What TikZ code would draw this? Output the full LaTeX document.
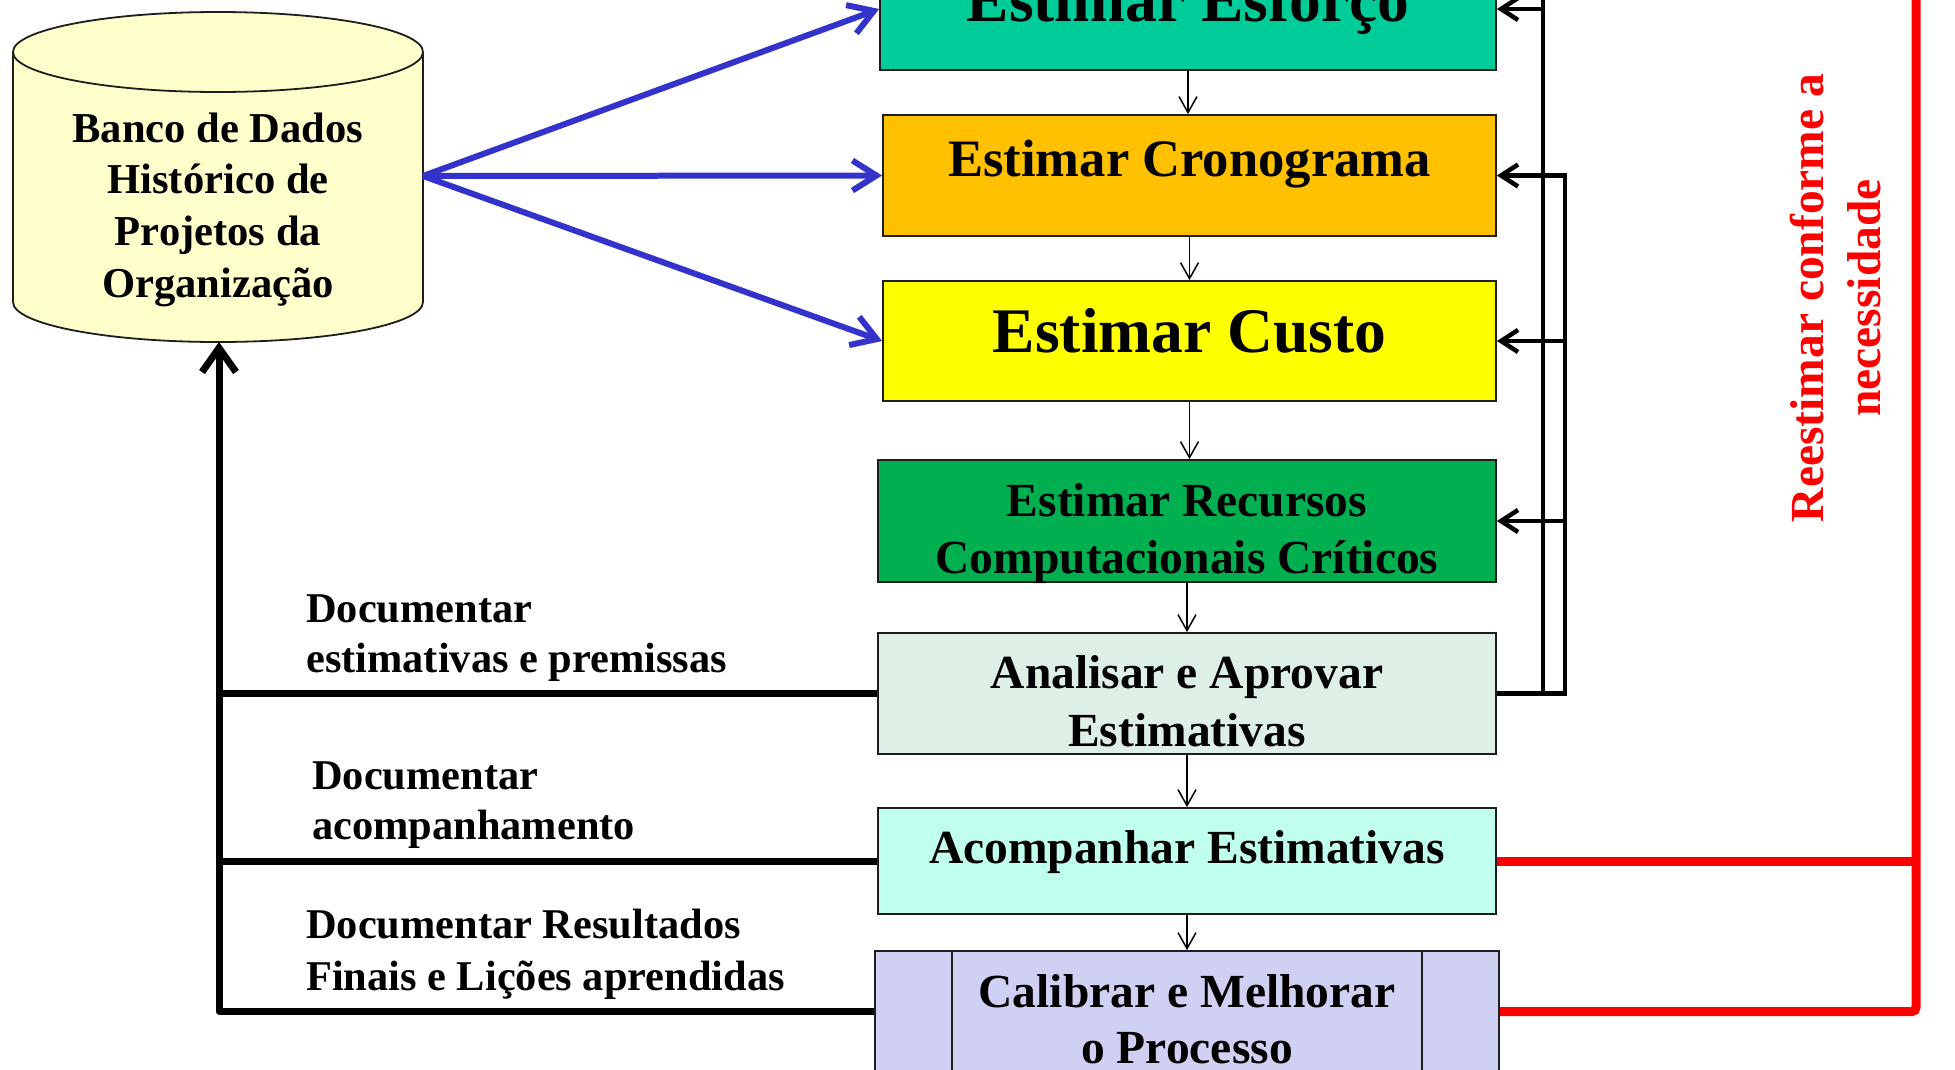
\documentclass[tikz,border=0pt]{standalone}
\usepackage{fontspec}
\setmainfont{Liberation Serif}
\usetikzlibrary{arrows.meta}
\definecolor{esfcol}{RGB}{0,204,153}
\definecolor{crocol}{RGB}{255,192,0}
\definecolor{cuscol}{RGB}{255,255,0}
\definecolor{reccol}{RGB}{0,176,80}
\definecolor{anacol}{RGB}{222,240,230}
\definecolor{acocol}{RGB}{192,255,238}
\definecolor{calcol}{RGB}{208,208,242}
\definecolor{dbcol}{RGB}{255,255,204}
\definecolor{bluecol}{RGB}{51,51,204}
\definecolor{redcol}{RGB}{255,0,0}
\definecolor{bordercol}{RGB}{30,30,30}
\begin{document}
\begin{tikzpicture}[x=1pt,y=-1pt,
  boxst/.style={draw=bordercol, line width=1.8pt, rectangle, inner sep=0pt},
  txtDb/.style={font=\fontsize{42.6}{51}\selectfont\bfseries, inner sep=0pt, anchor=base},
  txtBig/.style={font=\fontsize{63.5}{76}\selectfont\bfseries, inner sep=0pt, anchor=base},
  txtMid/.style={font=\fontsize{52.6}{63}\selectfont\bfseries, inner sep=0pt, anchor=base},
  txtStd/.style={font=\fontsize{47.5}{57}\selectfont\bfseries, inner sep=0pt, anchor=base},
  txtLbl/.style={font=\fontsize{42.4}{51}\selectfont\bfseries, inner sep=0pt, anchor=base west},
  txtRed/.style={font=\fontsize{47.5}{57}\selectfont\bfseries, text=redcol, inner sep=0pt, align=center, rotate=90},
  downarr/.style={draw=black, line width=1.5pt, -{Straight Barb[length=16pt,width=18pt]}},
  bluearr/.style={draw=bluecol, line width=6pt, -{Straight Barb[length=24pt,width=30pt]}},
  docline/.style={draw=black, line width=7pt},
  docarr/.style={draw=black, line width=7pt, line join=round, -{Straight Barb[length=24pt,width=34pt]}},
  fbline/.style={draw=black, line width=4.5pt},
  fbarr/.style={draw=black, line width=4.5pt, -{Straight Barb[length=17pt,width=22pt]}},
  redline/.style={draw=redcol, line width=9pt, rounded corners=4pt}
]
\useasboundingbox (0,0) rectangle (1955,1069);
\fill[white] (0,0) rectangle (1955,1069);

% database cylinder
\fill[dbcol] (13,52) -- (13,302) arc[start angle=180,end angle=360,x radius=205pt,y radius=40pt] -- (423,52) -- cycle;
\draw[bordercol, line width=1.8pt] (13,52) -- (13,302) arc[start angle=180,end angle=360,x radius=205pt,y radius=40pt] -- (423,52);
\draw[bordercol, line width=1.8pt, fill=dbcol] (218,52) ellipse [x radius=205pt, y radius=40pt];
\coordinate (dbr) at (423,176);
\coordinate (dbb) at (219,342);
\node[txtDb] (db1) at (218,142) {Banco de Dados};
\node[txtDb] (db2) at (218,193) {Histórico de};
\node[txtDb] (db3) at (218,245) {Projetos da};
\node[txtDb] (db4) at (218,297) {Organização};

% process boxes
\node[boxst, fill=esfcol, minimum width=616pt, minimum height=122pt] (esf) at (1188,9) {};
\node[boxst, fill=crocol, minimum width=613pt, minimum height=121pt] (cro) at (1189.5,175.5) {};
\node[boxst, fill=cuscol, minimum width=613pt, minimum height=120pt] (cus) at (1189.5,341) {};
\node[boxst, fill=reccol, minimum width=618pt, minimum height=122pt] (rec) at (1187,521) {};
\node[boxst, fill=anacol, minimum width=618pt, minimum height=121pt] (ana) at (1187,693.5) {};
\node[boxst, fill=acocol, minimum width=618pt, minimum height=106pt] (aco) at (1187,861) {};
\node[boxst, fill=calcol, minimum width=624pt, minimum height=121pt] (cal) at (1187,1011.5) {};
\draw[bordercol, line width=1.8pt] ([xshift=78pt]cal.north west) -- ([xshift=78pt]cal.south west);
\draw[bordercol, line width=1.8pt] ([xshift=-78pt]cal.north east) -- ([xshift=-78pt]cal.south east);

\node[txtBig] (esft) at (1188,21) {Estimar Esforço};
\node[txtMid] (crot) at (1189.5,176) {Estimar Cronograma};
\node[txtBig] (cust) at (1189.5,352) {Estimar Custo};
\node[txtStd] (rect1) at (1187,516) {Estimar Recursos};
\node[txtStd] (rect2) at (1187,573) {Computacionais Críticos};
\node[txtStd] (anat1) at (1187,688) {Analisar e Aprovar};
\node[txtStd] (anat2) at (1187,746) {Estimativas};
\node[txtStd] (acot) at (1187,863) {Acompanhar Estimativas};
\node[txtStd] (calt1) at (1187,1007) {Calibrar e Melhorar};
\node[txtStd] (calt2) at (1187,1063) {o Processo};

% downward flow
\draw[downarr] (esf.south) -- (cro.north -| esf.south);
\draw[downarr] (cro.south) -- (cus.north -| cro.south);
\draw[downarr] (cus.south) -- (rec.north -| cus.south);
\draw[downarr] (rec.south) -- (ana.north -| rec.south);
\draw[downarr] (ana.south) -- (aco.north -| ana.south);
\draw[downarr] (aco.south) -- (cal.north -| aco.south);

% blue arrows from database
\draw[bluearr] (dbr) -- (esf.west);
\draw[bluearr] (dbr) -- (cro.west);
\draw[bluearr] (dbr) -- (cus.west);

% documentation back to database
\draw[docarr] (cal.west) -- (cal.west -| dbb) -- (dbb);
\draw[docline] (aco.west) -- (aco.west -| dbb);
\draw[docline] (ana.west) -- (ana.west -| dbb);
\node[txtLbl] (l1a) at (306,622) {Documentar};
\node[txtLbl] (l1b) at (306,672) {estimativas e premissas};
\node[txtLbl] (l2a) at (312,789) {Documentar};
\node[txtLbl] (l2b) at (312,839) {acompanhamento};
\node[txtLbl] (l3a) at (306,938) {Documentar Resultados};
\node[txtLbl] (l3b) at (306,990) {Finais e Lições aprendidas};

% feedback from analysis
\coordinate (rA) at (1543,-10);
\coordinate (rB) at (1565,0);
\draw[fbarr] (ana.east) -- (ana.east -| rB) -- (cro.east -| rB) -- (cro.east);
\draw[fbarr] (cus.east -| rB) -- (cus.east);
\draw[fbarr] (rec.east -| rB) -- (rec.east);
\draw[fbline] (ana.east -| rA) -- (rA);
\draw[fbarr] (esf.east -| rA) -- (esf.east);

% red re-estimation loop
\coordinate (rR) at (1916,-10);
\draw[redline] (cal.east) -- (cal.east -| rR) -- (rR);
\draw[redline] (aco.east) -- (aco.east -| rR);
\node[txtRed] (redt) at (1835,298) {Reestimar conforme a\\necessidade};
\end{tikzpicture}
\end{document}
